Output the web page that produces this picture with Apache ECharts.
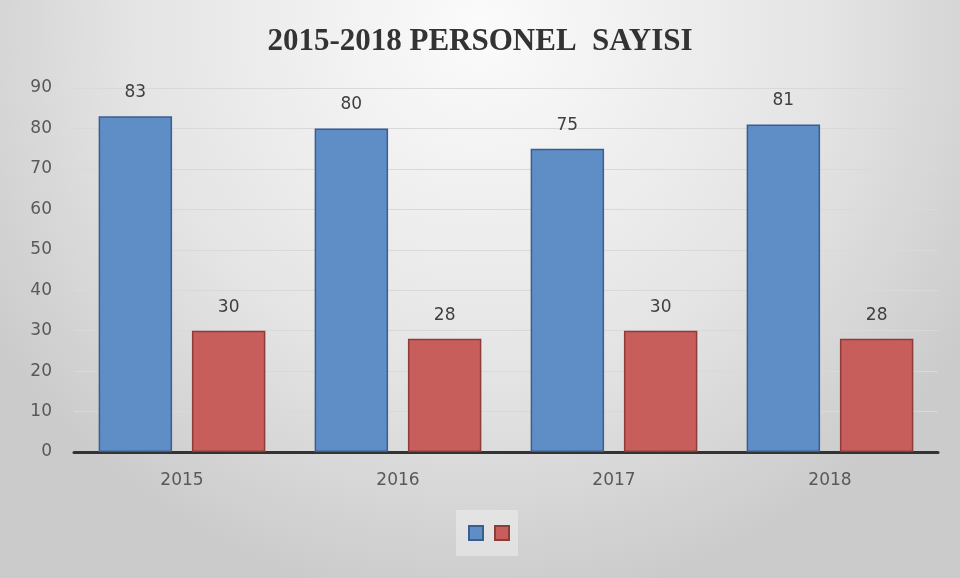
<!DOCTYPE html>
<html>
<head>
<meta charset="utf-8">
<script src="https://cdn.jsdelivr.net/npm/echarts@6/dist/echarts.min.js"></script>
<style>
  html, body { margin: 0; padding: 0; }
  #chart { width: 960px; height: 578px; }
</style>
</head>
<body>
<div id="chart"></div>
<script>
// veriler
const years = ['2015', '2016', '2017', '2018'];
const seriesA = [83, 80, 75, 81];
const seriesB = [30, 28, 30, 28];
const yTicks = [0, 10, 20, 30, 40, 50, 60, 70, 80, 90];

const chart = echarts.init(document.getElementById('chart'));

const labelStyle = {
  show: true,
  position: 'top',
  distance: 15,
  color: '#404040',
  fontFamily: 'DejaVu Sans',
  fontSize: 17
};

chart.setOption({
  backgroundColor: {
    type: 'radial',
    x: 0.5, y: 0.05, r: 1.0,
    colorStops: [
      { offset: 0, color: '#fbfbfb' },
      { offset: 0.6, color: '#e4e4e4' },
      { offset: 1, color: '#cbcbcb' }
    ]
  },
  title: {
    text: '2015-2018 PERSONEL  SAYISI',
    left: 'center',
    top: 21,
    textStyle: {
      fontFamily: 'Liberation Serif',
      fontWeight: 'bold',
      fontSize: 31,
      color: '#333333'
    }
  },
  grid: { left: 74, right: 22, top: 88, bottom: 126 },
  legend: {
    bottom: 22,
    left: 456,
    icon: 'rect',
    itemWidth: 14,
    itemHeight: 14,
    itemGap: 10,
    padding: [15, 8, 15, 12],
    backgroundColor: 'rgba(255,255,255,0.35)',
    formatter: () => '',
    data: ['Seri 1', 'Seri 2']
  },
  xAxis: {
    type: 'category',
    data: years,
    axisTick: { show: false },
    axisLine: { lineStyle: { color: '#333333', width: 3 } },
    axisLabel: {
      color: '#595959',
      fontFamily: 'DejaVu Sans',
      fontSize: 17,
      margin: 20
    }
  },
  yAxis: {
    type: 'value',
    min: yTicks[0],
    max: yTicks[yTicks.length - 1],
    interval: 10,
    axisLine: { show: false },
    axisTick: { show: false },
    splitLine: { lineStyle: { color: '#d9d9d9', width: 1 } },
    axisLabel: {
      color: '#595959',
      fontFamily: 'DejaVu Sans',
      fontSize: 17,
      margin: 22
    }
  },
  series: [
    {
      name: 'Seri 1',
      type: 'bar',
      data: seriesA,
      barWidth: '34%',
      barGap: '27%',
      itemStyle: { color: '#5f8dc6', borderColor: '#3a5f8f', borderWidth: 1.5 },
      label: labelStyle
    },
    {
      name: 'Seri 2',
      type: 'bar',
      data: seriesB,
      barWidth: '34%',
      itemStyle: { color: '#c85e5b', borderColor: '#8e3c39', borderWidth: 1.5 },
      label: labelStyle
    }
  ]
});
</script>
</body>
</html>
